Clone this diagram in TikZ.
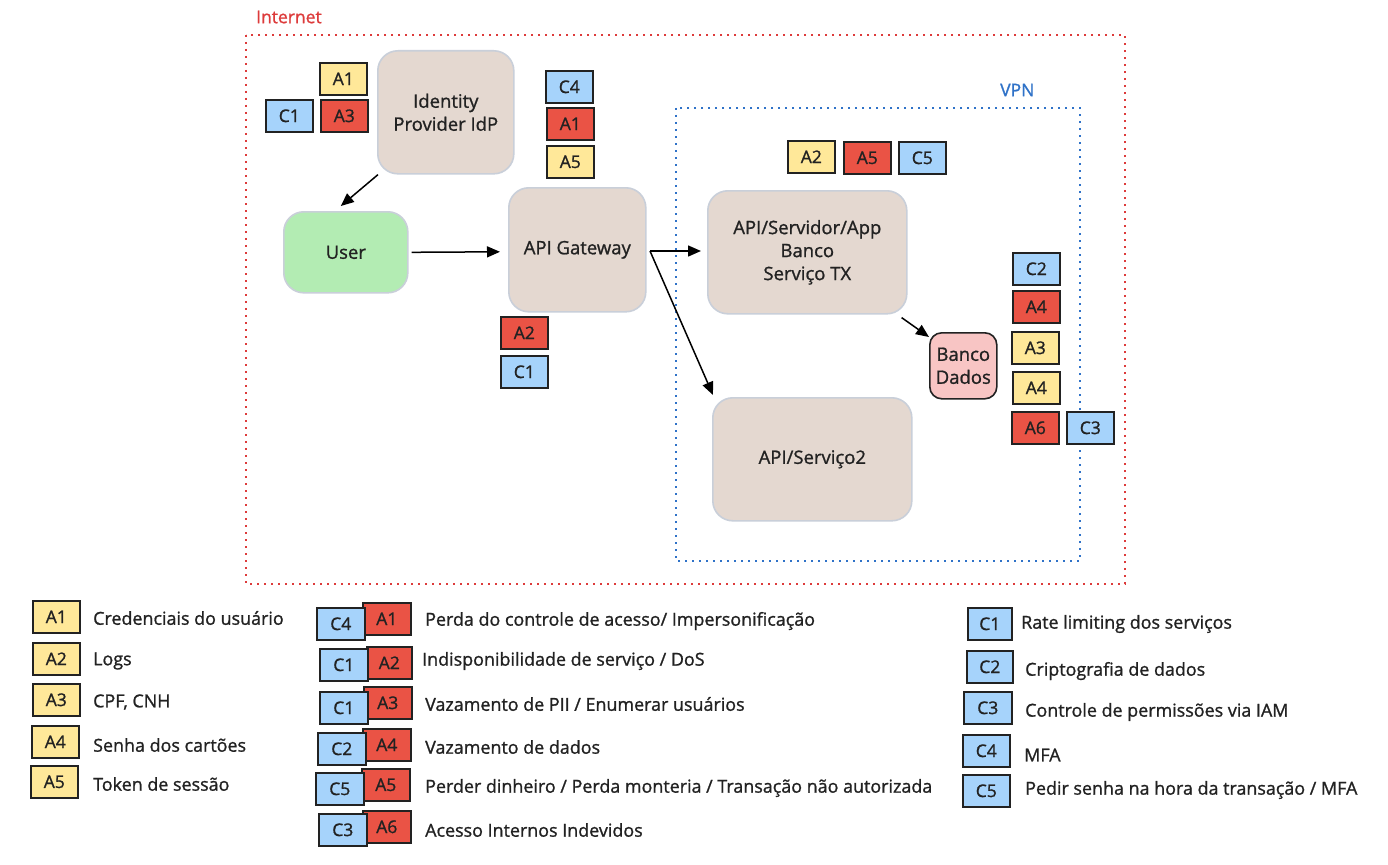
\documentclass[tikz,border=0pt]{standalone}
\usepackage{fontspec}
\setmainfont{Open Sans}[FakeBold=1.1]
\usetikzlibrary{arrows.meta,calc}
\definecolor{txt}{HTML}{222222}
\definecolor{ylw}{HTML}{FFE899}
\definecolor{rd}{HTML}{EA5345}
\definecolor{blu}{HTML}{A6D3FB}
\definecolor{beige}{HTML}{E4D8D0}
\definecolor{bbord}{HTML}{C9CFD9}
\definecolor{grn}{HTML}{B3ECB3}
\definecolor{pnk}{HTML}{F8C5C4}
\definecolor{inetred}{HTML}{DD3B3B}
\definecolor{vpnblue}{HTML}{2F72C8}
\tikzset{
  x=1pt,y=-1pt,
  every node/.style={font=\fontsize{18}{23}\selectfont, text=txt},
  tag/.style={draw=txt, line width=1.6pt, minimum width=47pt, minimum height=32pt, inner sep=0pt, anchor=north west, font=\fontsize{17.5}{20}\selectfont},
  tagY/.style={tag, fill=ylw},
  tagR/.style={tag, fill=rd},
  tagB/.style={tag, fill=blu},
  svc/.style={draw=bbord, line width=1.6pt, fill=beige, rounded corners=20pt, align=center, anchor=north west, inner sep=0pt, font=\fontsize{18.5}{23}\selectfont},
  arr/.style={draw=black, line width=1.5pt, -{Triangle[length=13pt,width=11pt]}},
  legtxt/.style={anchor=west, inner sep=0pt, font=\fontsize{17.9}{22}\selectfont},
  zone/.style={line width=2.2pt, dash pattern=on 2.2pt off 4.8pt}
}
\begin{document}
\begin{tikzpicture}
\useasboundingbox (0,0) rectangle (1388,864);
\fill[white] (0,0) rectangle (1388,864);
% zones
\draw[zone, draw=inetred] (246,35) rectangle (1125,584);
\node[anchor=west, inner sep=0pt, text=inetred, font=\fontsize{17.5}{20}\selectfont] (lblinet) at (256,17) {Internet};
\draw[zone, draw=vpnblue] (676,108) rectangle (1080,561);
\node[anchor=west, inner sep=0pt, text=vpnblue, font=\fontsize{17.5}{20}\selectfont] (lblvpn) at (1000,90) {VPN};
% services
\node[svc, minimum width=136pt, minimum height=123pt] (idp) at (377,50) {Identity\\Provider IdP};
\node[svc, fill=grn, minimum width=124pt, minimum height=81pt] (user) at (283,211) {User};
\node[svc, minimum width=137pt, minimum height=124pt] (gw) at (508,187) {API Gateway};
\node[svc, minimum width=199pt, minimum height=123pt] (srv) at (707,190) {API/Servidor/App\\Banco\\Serviço TX};
\node[svc, minimum width=199pt, minimum height=123pt] (s2) at (712,397) {API/Serviço2};
\node[svc, draw=txt, fill=pnk, rounded corners=12pt, minimum width=67pt, minimum height=66pt] (db) at (929,332) {Banco\\Dados};
% tags diagram
\node[tagY] (dA1) at (319,62) {A1};
\node[tagB] (dC1a) at (265,99) {C1};
\node[tagR] (dA3) at (320,99) {A3};
\node[tagB] (dC4) at (545,70) {C4};
\node[tagR] (dA1r) at (546,107) {A1};
\node[tagY] (dA5) at (546,145) {A5};
\node[tagR] (dA2r) at (500,316) {A2};
\node[tagB] (dC1b) at (500,355) {C1};
\node[tagY] (dA2) at (787,140) {A2};
\node[tagR] (dA5r) at (843,141) {A5};
\node[tagB] (dC5) at (898,141) {C5};
\node[tagB] (dC2) at (1012,252) {C2};
\node[tagR] (dA4r) at (1012,290) {A4};
\node[tagY] (dA3y) at (1011,331) {A3};
\node[tagY] (dA4y) at (1012,371) {A4};
\node[tagR] (dA6) at (1011,411) {A6};
\node[tagB] (dC3) at (1066,411) {C3};
% arrows
\coordinate (gwout) at (650,251);
\draw[arr] ($(idp.south west)+(1,0)$) -- ($(user.north)+(-5,-5)$);
\draw[arr] ($(user.east)+(3,0)$) -- ($(gw.west)+(-8,2)$);
\draw[arr] (gwout) -- ($(srv.west |- gwout)+(-6,0)$);
\draw[arr] (gwout) -- ($(s2.north west)+(1,-2)$);
\draw[arr] ($(srv.south east)+(-6,3)$) -- ($(db.north west)+(0,5)$);
% legend left
\node[tagY] (lA1) at (32,600) {A1};
\node[tagY] (lA2) at (32,642) {A2};
\node[tagY] (lA3) at (32,683) {A3};
\node[tagY] (lA4) at (31,725) {A4};
\node[tagY] (lA5) at (30,765) {A5};
\node[legtxt] (tA1) at (93,618) {Credenciais do usuário};
\node[legtxt] (tA2) at (93,661) {Logs};
\node[legtxt] (tA3) at (93,702) {CPF, CNH};
\node[legtxt] (tA4) at (93,745) {Senha dos cartões};
\node[legtxt] (tA5) at (93,784) {Token de sessão};
% legend middle
\node[tagR, minimum width=48pt] (mA1) at (362,602) {A1};
\node[tagB, minimum width=48pt] (mC4) at (316,607) {C4};
\node[tagR, minimum width=45pt] (mA2) at (366,646) {A2};
\node[tagB, minimum width=48pt] (mC1a) at (319,648) {C1};
\node[tagR, minimum width=48pt] (mA3) at (363,686) {A3};
\node[tagB, minimum width=48pt] (mC1b) at (319,691) {C1};
\node[tagR, minimum width=48pt] (mA4) at (362,728) {A4};
\node[tagB, minimum width=48pt] (mC2) at (317,732) {C2};
\node[tagR, minimum width=48pt] (mA5) at (361,768) {A5};
\node[tagB, minimum width=48pt] (mC5) at (315,772) {C5};
\node[tagR, minimum width=48pt] (mA6) at (362,810) {A6};
\node[tagB, minimum width=48pt] (mC3) at (318,813) {C3};
\node[legtxt] (tm1) at (425,621) {Perda do controle de acesso/ Impersonificação};
\node[legtxt] (tm2) at (422,661) {Indisponibilidade de serviço / DoS};
\node[legtxt] (tm3) at (425,704) {Vazamento de PII / Enumerar usuários};
\node[legtxt] (tm4) at (425,747) {Vazamento de dados};
\node[legtxt] (tm5) at (425,788) {Perder dinheiro / Perda monteria / Transação não autorizada};
\node[legtxt] (tm6) at (425,830) {Acesso Internos Indevidos};
% legend right
\node[tagB, minimum width=44pt] (rC1) at (967,607) {C1};
\node[tagB, minimum width=46pt] (rC2) at (966,650) {C2};
\node[tagB, minimum width=48pt] (rC3) at (963,691) {C3};
\node[tagB, minimum width=47pt] (rC4) at (962,734) {C4};
\node[tagB, minimum width=47pt] (rC5) at (962,774) {C5};
\node[legtxt] (tr1) at (1021,624) {Rate limiting dos serviços};
\node[legtxt] (tr2) at (1025,671) {Criptografia de dados};
\node[legtxt] (tr3) at (1025,712) {Controle de permissões via IAM};
\node[legtxt] (tr4) at (1024,755) {MFA};
\node[legtxt] (tr5) at (1025,790) {Pedir senha na hora da transação / MFA};
\end{tikzpicture}
\end{document}
